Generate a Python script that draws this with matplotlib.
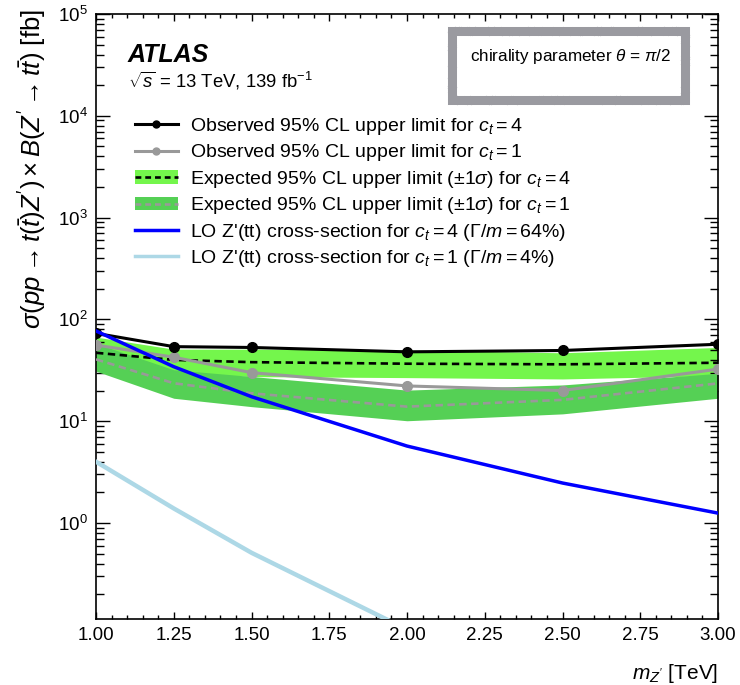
import matplotlib
matplotlib.use("Agg")
import matplotlib.pyplot as plt
from matplotlib.lines import Line2D
from matplotlib.patches import Patch, Rectangle
from matplotlib.ticker import MultipleLocator, LogLocator, NullFormatter, FixedLocator

plt.rcParams['font.family'] = ['Liberation Sans', 'DejaVu Sans']
plt.rcParams['mathtext.fontset'] = 'custom'
plt.rcParams['mathtext.rm'] = 'Liberation Sans'
plt.rcParams['mathtext.it'] = 'Liberation Sans:italic'
plt.rcParams['mathtext.bf'] = 'Liberation Sans:bold'

# ---- data ----
mass = [1.0, 1.25, 1.5, 2.0, 2.5, 3.0]
obs_ct4 = [73, 54, 53, 48, 49.5, 57]
obs_ct1 = [56, 42.5, 30, 22.2, 20, 32.5]
exp_ct4 = [47, 40, 38, 36.7, 36.2, 37.5]
exp_ct4_lo = [35, 30, 27.4, 26.8, 26, 28]
exp_ct4_hi = [67, 51, 51, 50, 47, 53]
exp_ct1 = [40.5, 23.6, 18.8, 13.9, 16.2, 23.5]
exp_ct1_lo = [31, 16.8, 13.9, 10.1, 11.8, 16.8]
exp_ct1_hi = [58, 32, 27.5, 20.2, 22.7, 29.5]
lo_ct4 = [77, 34.3, 17.4, 5.7, 2.47, 1.25]
mass_lo_ct1 = [1.0, 1.25, 1.5, 2.0]
lo_ct1 = [4.0, 1.39, 0.51, 0.09]
y_major_ticks = [1e0, 1e1, 1e2, 1e3, 1e4, 1e5]

labels = [r'Observed 95% CL upper limit for $c_t = 4$',
          r'Observed 95% CL upper limit for $c_t = 1$',
          r'Expected 95% CL upper limit ($\pm 1\sigma$) for $c_t = 4$',
          r'Expected 95% CL upper limit ($\pm 1\sigma$) for $c_t = 1$',
          r"LO Z'(tt) cross-section for $c_t = 4$ ($\Gamma/m = 64\%$)",
          r"LO Z'(tt) cross-section for $c_t = 1$ ($\Gamma/m = 4\%$)"]

c_bright = '#74f64c'
c_dark = '#55d055'
c_gray = '#999999'
c_frame = '#9a9aa0'

W, H = 740, 685
fig = plt.figure(figsize=(W / 100, H / 100), dpi=100)
ax = fig.add_axes([96 / W, 1 - 619 / H, (718 - 96) / W, (619 - 14) / H])

ax.fill_between(mass, exp_ct4_lo, exp_ct4_hi, color=c_bright, lw=0, zorder=1)
ax.fill_between(mass, exp_ct1_lo, exp_ct1_hi, color=c_dark, lw=0, zorder=2)
ax.plot(mass, exp_ct4, color='black', lw=1.9, dashes=(2.8, 1.7), zorder=3)
ax.plot(mass, exp_ct1, color=c_gray, lw=1.9, dashes=(2.8, 1.7), zorder=3)
ax.plot(mass, obs_ct1, color=c_gray, lw=2.2, marker='o', ms=7, zorder=4)
ax.plot(mass, obs_ct4, color='black', lw=2.2, marker='o', ms=7, zorder=5)
ax.plot(mass, lo_ct4, color='#0000ff', lw=2.5, zorder=6)
ax.plot(mass_lo_ct1, lo_ct1, color='#add8e6', lw=3.2, zorder=6)

ax.set_yscale('log')
ax.set_xlim(1.0, 3.0)
ax.set_ylim(0.114, 1e5)
ax.xaxis.set_major_locator(MultipleLocator(0.25))
ax.xaxis.set_minor_locator(MultipleLocator(0.05))
ax.xaxis.set_major_formatter(matplotlib.ticker.FormatStrFormatter('%.2f'))
ax.yaxis.set_major_locator(FixedLocator(y_major_ticks))
ax.yaxis.set_minor_locator(LogLocator(base=10, subs=range(2, 10), numticks=100))
ax.yaxis.set_minor_formatter(NullFormatter())
ax.tick_params(axis='both', which='both', direction='in', top=True, right=True,
               labelsize=13.5, width=1.0)
ax.tick_params(axis='x', which='major', length=5, pad=6)
ax.tick_params(axis='x', which='minor', length=3)
ax.tick_params(axis='y', which='major', length=10, pad=6)
ax.tick_params(axis='y', which='minor', length=5.5)
for s in ax.spines.values():
    s.set_linewidth(1.2)

fig.text(718 / W, 1 - 679 / H, r"$m_{Z'}$ [TeV]", ha='right', va='baseline', fontsize=15)
fig.text(33 / W, 1 - 9 / H,
         r"$\sigma(pp \rightarrow t(\bar{t})Z') \times B(Z' \rightarrow t\bar{t})$ [fb]",
         rotation=90, ha='center', va='top', fontsize=18.5)

fig.text(128 / W, 1 - 62 / H, 'ATLAS', fontsize=18, fontweight='bold', fontstyle='italic')
fig.text(128 / W, 1 - 87 / H, r'$\sqrt{s}$ = 13 TeV, 139 fb$^{-1}$', fontsize=13.3)

# chirality box with rough gray frame
bx0, bx1, by0, by1 = 452, 685, 31, 100
rect = Rectangle((bx0 / W, 1 - by1 / H), (bx1 - bx0) / W, (by1 - by0) / H,
                 transform=fig.transFigure, fill=False, edgecolor=c_frame, lw=6.5)
fig.add_artist(rect)
for sc, ln in [(3.0, 2.0), (2.5, 3.0)]:
    r2 = Rectangle((bx0 / W, 1 - by1 / H), (bx1 - bx0) / W, (by1 - by0) / H,
                   transform=fig.transFigure, fill=False, edgecolor=c_frame, lw=2.5,
                   joinstyle='round', capstyle='round')
    r2.set_sketch_params(scale=sc, length=ln, randomness=1.5)
    fig.add_artist(r2)
fig.text(470 / W, 1 - 57 / H, r'chirality parameter $\theta$ = $\pi$/2', fontsize=12.3,
         va='center')

handles = [
    Line2D([], [], color='black', lw=2.2, marker='o', ms=5),
    Line2D([], [], color=c_gray, lw=2.2, marker='o', ms=5),
    (Patch(facecolor=c_bright, lw=0), Line2D([], [], color='black', lw=1.9, dashes=(2.2, 1.5))),
    (Patch(facecolor=c_dark, lw=0), Line2D([], [], color=c_gray, lw=1.9, dashes=(2.2, 1.5))),
    Line2D([], [], color='#0000ff', lw=2.5),
    Line2D([], [], color='#add8e6', lw=2.5),
]
fig.legend(handles, labels, loc='upper left', bbox_to_anchor=(135 / W, 1 - 116 / H),
           frameon=False, fontsize=14, handlelength=2.2, handletextpad=0.62,
           labelspacing=0.28, borderpad=0, borderaxespad=0)

fig.savefig('out.png', dpi=100)
